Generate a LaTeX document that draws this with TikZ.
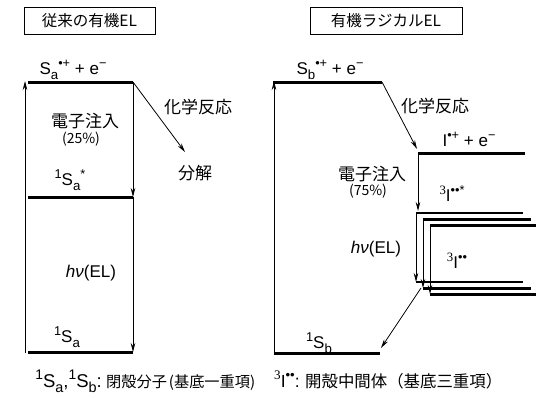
\documentclass[tikz,border=0pt]{standalone}
\usepackage{fontspec}
\setmainfont{Liberation Sans}
\newfontfamily\jp{Noto Sans CJK JP}
\newfontfamily\serifnum{Liberation Serif}
\usetikzlibrary{arrows.meta}
\newcommand{\lsub}[1]{\raisebox{-0.3em}{\scalebox{0.78}{#1}}}
\newcommand{\lsup}[1]{\raisebox{0.42em}{\scalebox{0.75}{#1}}}
\begin{document}
\begin{tikzpicture}[x=1pt,y=-1pt,
  lvl/.style={line width=3pt},
  lvlthin/.style={line width=2pt},
  arr/.style={line width=0.8pt,-{Stealth[length=9pt,width=4.5pt]}},
  jt/.style={font=\jp\fontsize{17}{19}\selectfont, inner sep=0pt},
  jsm/.style={font=\jp\fontsize{14}{16}\selectfont, inner sep=0pt},
  lt/.style={font=\fontsize{17}{19}\selectfont, inner sep=0pt},
  captext/.style={font=\fontsize{17.5}{20}\selectfont, inner sep=0pt, anchor=base west},
  capjp/.style={inner sep=0pt, anchor=base west},
  titlebox/.style={draw, line width=0.8pt, font=\jp\fontsize{15.5}{18}\selectfont, minimum height=27pt, inner sep=0pt}
]
\useasboundingbox (0,0) rectangle (540,397);

% titles
\node[titlebox, minimum width=131pt] (t1) at (89.5,20.5) {従来の有機EL};
\node[titlebox, minimum width=152pt] (t2) at (386,20.5) {有機ラジカルEL};

% ---------- left diagram ----------
\coordinate (aT1) at (28,82);  \coordinate (aT2) at (133,82);
\coordinate (aM1) at (28,197); \coordinate (aM2) at (133,197);
\coordinate (aB1) at (28,352); \coordinate (aB2) at (133,352);
\coordinate (aU0) at (25,353); \coordinate (aU1) at (25,81);
\coordinate (aD) at (185,152);
\draw[lvl] (aT1) -- (aT2);
\draw[lvl] (aM1) -- (aM2);
\draw[lvl] (aB1) -- (aB2);
\draw[arr] (aU0) -- (aU1);
\draw[arr] (aT2) -- (aM2);
\draw[arr] (aM2) -- (aB2);
\draw[arr] (aT2) -- (aD);

\node[lt] (la1) at (73,70) {S\lsub{a}\lsup{•+} + e\lsup{−}};
\node[jt] (la2) at (85,121) {電子注入};
\node[jsm] (la3) at (81,139) {(25\%)};
\node[jt] (la4) at (198,107) {化学反応};
\node[jt] (la5) at (195,173) {分解};
\node[lt] (la6) at (70,180) {\lsup{1}S\lsub{a}\lsup{*}};
\node[lt] (la7) at (91,273) {\textit{hν}(EL)};
\node[lt] (la8) at (67,337) {\lsup{1}S\lsub{a}};
\node[captext, font=\fontsize{18.5}{20}\selectfont, anchor=base east] (ca) at (102,387) {\lsup{1}S\lsub{a},\lsup{1}S\lsub{b}:};
\node[capjp, font=\jp\fontsize{15.5}{18}\selectfont] (caj) at (106,387) {\resizebox{149pt}{!}{閉殻分子\kern2pt(基底一重項)}};

% ---------- right diagram ----------
\coordinate (bT1) at (273,82);  \coordinate (bT2) at (382,82);
\coordinate (bB1) at (274,353); \coordinate (bB2) at (380,353);
\coordinate (bU0) at (274,354); \coordinate (bU1) at (274,81);
\coordinate (bI1) at (418,153); \coordinate (bI2) at (525,153);
\coordinate (bD) at (417,149);
\draw[lvl] (bT1) -- (bT2);
\draw[lvl] (bB1) -- (bB2);
\draw[arr] (bU0) -- (bU1);
\draw[arr] (bT2) -- (bD);
\draw[lvl] (bI1) -- (bI2);

% triplet levels
\coordinate (p1a) at (416,213); \coordinate (p1b) at (523,213);
\coordinate (p2a) at (423,219); \coordinate (p2b) at (531,219);
\coordinate (p3a) at (430,225); \coordinate (p3b) at (536,225);
\coordinate (q1a) at (416,282); \coordinate (q1b) at (523,282);
\coordinate (q2a) at (423,288); \coordinate (q2b) at (531,288);
\coordinate (q3a) at (430,294); \coordinate (q3b) at (536,294);
\draw[lvlthin] (p1a) -- (p1b);
\draw[lvl] (p2a) -- (p2b);
\draw[lvl] (p3a) -- (p3b);
\draw[lvlthin] (q1a) -- (q1b);
\draw[lvl] (q2a) -- (q2b);
\draw[lvl] (q3a) -- (q3b);
\coordinate (bIdown) at (418,211);
\draw[arr] (bI1) -- (bIdown);
\draw[arr] (p1a) -- (q1a);
\draw[arr] (p2a) -- (q2a);
\draw[arr] (p3a) -- (q3a);
\coordinate (bE0) at (421,288);
\coordinate (bE1) at (381,348);
\draw[arr] (bE0) -- (bE1);

\node[lt] (lb1) at (330,70) {S\lsub{b}\lsup{•+} + e\lsup{−}};
\node[jt] (lb2) at (435,106) {化学反応};
\node[lt] (lb3) at (469,139) {I\lsup{•+} + e\lsup{−}};
\node[jt] (lb4) at (372,174) {電子注入};
\node[jsm] (lb5) at (368,191) {(75\%)};
\node[lt] (lb6) at (452,194) {\lsup{\serifnum 3}I\lsup{••*}};
\node[lt] (lb7) at (376,249) {\textit{hν}(EL)};
\node[lt] (lb8) at (457,261) {\lsup{\serifnum 3}I\lsup{••}};
\node[lt] (lb9) at (319,343) {\lsup{1}S\lsub{b}};
\node[captext] (cb) at (274,387) {\lsup{\serifnum 3}I\lsup{••}:};
\node[capjp, font=\jp\fontsize{16.4}{18}\selectfont] (cbj) at (305,387) {\resizebox{197pt}{!}{開殻中間体（基底三重項）}};
\end{tikzpicture}
\end{document}
